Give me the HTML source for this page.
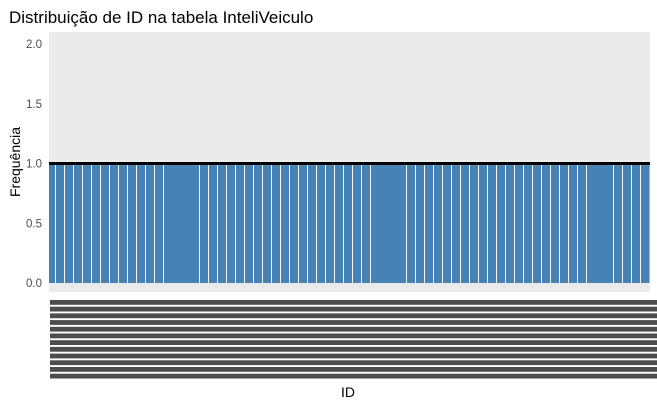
<!DOCTYPE html>
<html><head><meta charset="utf-8"><style>
body{margin:0;background:#fff}
svg{display:block;font-family:"Liberation Sans",sans-serif}
</style></head><body>
<svg id="c" width="657" height="406">
<text x="9" y="23" font-size="17" fill="#000">Distribuição de ID na tabela InteliVeiculo</text>
<rect x="49" y="32" width="601" height="260" fill="#EBEBEB"/>
<g id="bars"></g>
<g id="yticks"></g>
<g id="xlabels"></g>
<text transform="translate(20,162) rotate(-90)" text-anchor="middle" font-size="14" fill="#000">Frequência</text>
<text x="348" y="397" text-anchor="middle" font-size="14" fill="#000">ID</text>
</svg>
<script>
const ids = Array.from({length:67},(_,i)=>i+1);
const counts = [1,1,1,1,1,1,1,1,1,1,1,1,1,1,1,1,1,1,1,1,1,1,1,1,1,1,1,1,1,1,1,1,1,1,1,1,1,1,1,1,1,1,1,1,1,1,1,1,1,1,1,1,1,1,1,1,1,1,1,1,1,1,1,1,1,1,1];
const noSeparatorAfter = [14,15,16,37,38,39,61,62];
const yTicks = [0,0.5,1,1.5,2];
const yTickLabels = ["0.0","0.5","1.0","1.5","2.0"];
const refLine = 1;

const NS="http://www.w3.org/2000/svg";
const x0=46.3, pitch=9, panelL=49;
const xs = i => x0 + i*pitch;
const ys = v => 283 - v*(239/2);
function mk(t,a,p){const e=document.createElementNS(NS,t);for(const k in a)e.setAttribute(k,a[k]);p.appendChild(e);return e;}
const bars=document.getElementById('bars');
ids.forEach((id,i)=>{
  const l=Math.max(panelL,xs(i)), r=Math.min(649.5,xs(i+1)+0.8);
  const r1=mk('rect',{x:l,y:ys(counts[i]),width:r-l,height:ys(0)-ys(counts[i]),fill:'#4682B4','shape-rendering':'crispEdges'},bars);
  
  
});
ids.forEach((id,i)=>{
  if(i===ids.length-1||noSeparatorAfter.includes(id))return;
  const s=mk('rect',{x:Math.round(xs(i+1)),y:ys(Math.min(counts[i],counts[i+1])),width:1,height:ys(0)-ys(Math.min(counts[i],counts[i+1])),fill:'#F2F2F2','shape-rendering':'crispEdges'},bars);
  
  
});
const hl=mk('rect',{x:panelL,y:ys(refLine)-1.5,width:601,height:3,fill:'#000'},bars);


const yt=document.getElementById('yticks');
yTicks.forEach((v,i)=>{
  const t=mk('text',{x:42,y:ys(v)+4,'text-anchor':'end','font-size':11.5,fill:'#4D4D4D'},yt);
  t.textContent=yTickLabels[i];
  
  
});
const xl=document.getElementById('xlabels');
for(let k=0;k<12;k++){
  const r=mk('rect',{x:50,y:300+k*6.7,width:607,height:4.8,fill:'#4D4D4D'},xl);
  
  
}
</script>
</body></html>
